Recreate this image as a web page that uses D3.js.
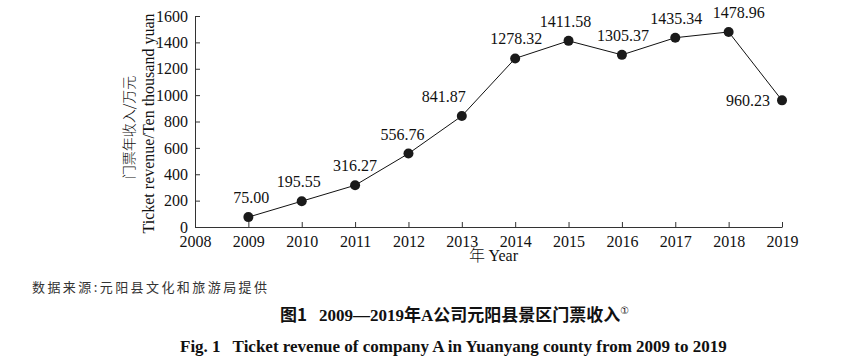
<!DOCTYPE html>
<html lang="zh">
<head>
  <meta charset="UTF-8">
  <title>Ticket revenue of company A</title>
  <script src="https://d3js.org/d3.v7.min.js"></script>
  <style>
    body { margin: 0; background: #fff; }
    svg { display: block; }
    .axis path, .axis line { stroke: #333; }
    .axis text { font-family: "Liberation Serif", serif; font-size: 16px; fill: #111; }
  </style>
</head>
<body>
<div id="chart"></div>
<script>
  // data
  const years = [2009, 2010, 2011, 2012, 2013, 2014, 2015, 2016, 2017, 2018, 2019];
  const revenue = [75.00, 195.55, 316.27, 556.76, 841.87, 1278.32, 1411.58, 1305.37, 1435.34, 1478.96, 960.23];
  const xTicks = [2008, 2009, 2010, 2011, 2012, 2013, 2014, 2015, 2016, 2017, 2018, 2019];
  const yTicks = [0, 200, 400, 600, 800, 1000, 1200, 1400, 1600];

  // label nudges (layout only)
  const labelDx = [3, -3, 0, -6, -18, 1, -3, 1, 1, 10, 0];

  const W = 862, H = 363;
  const margin = { top: 16, right: 80, bottom: 136, left: 195 };

  const svg = d3.select("#chart").append("svg")
    .attr("width", W).attr("height", H);

  const x = d3.scaleLinear().domain([2008, 2019]).range([margin.left, W - margin.right]);
  const y = d3.scaleLinear().domain([0, 1600]).range([H - margin.bottom, margin.top]);

  // axes, ticks pointing inward
  svg.append("g")
    .attr("class", "axis")
    .attr("transform", `translate(0,${y(0)})`)
    .call(d3.axisBottom(x).tickValues(xTicks).tickFormat(d3.format("d"))
      .tickSizeInner(-5).tickSizeOuter(0).tickPadding(9));

  svg.append("g")
    .attr("class", "axis")
    .attr("transform", `translate(${x(2008)},0)`)
    .call(d3.axisLeft(y).tickValues(yTicks).tickFormat(d3.format("d"))
      .tickSizeInner(-5).tickSizeOuter(0).tickPadding(7));

  // line
  const pts = years.map((yr, i) => ({ yr, v: revenue[i], i }));
  svg.append("path")
    .datum(pts)
    .attr("fill", "none")
    .attr("stroke", "#111")
    .attr("stroke-width", 1)
    .attr("d", d3.line().x(d => x(d.yr)).y(d => y(d.v)));

  svg.append("g")
    .selectAll("circle")
    .data(pts)
    .enter().append("circle")
      .attr("cx", d => x(d.yr))
      .attr("cy", d => y(d.v))
      .attr("r", 5)
      .attr("fill", "#1a1a1a");

  // value labels
  svg.append("g")
    .selectAll("text")
    .data(pts)
    .enter().append("text")
      .attr("x", d => x(d.yr) + labelDx[d.i] + (d.i === pts.length - 1 ? -12 : 0))
      .attr("y", d => d.i === pts.length - 1 ? y(d.v) + 6 : y(d.v) - 14)
      .attr("text-anchor", d => d.i === pts.length - 1 ? "end" : "middle")
      .style("font-family", "Liberation Serif, serif")
      .style("font-size", "16px")
      .attr("fill", "#111")
      .text(d => d3.format(".2f")(d.v));

  // axis titles
  svg.append("text")
    .attr("x", (x(2008) + x(2019)) / 2 + 5)
    .attr("y", 261)
    .attr("text-anchor", "middle")
    .style("font-size", "16px")
    .attr("fill", "#111")
    .call(t => {
      t.append("tspan").style("font-family", "Noto Sans CJK SC").style("font-weight", "300").text("年 ");
      t.append("tspan").style("font-family", "Liberation Serif, serif").text("Year");
    });

  const yMid = (y(0) + y(1600)) / 2;
  svg.append("text")
    .attr("transform", `translate(134,${yMid + 6}) rotate(-90)`)
    .attr("text-anchor", "middle")
    .style("font-family", "Noto Sans CJK SC")
    .style("font-weight", "300")
    .style("font-size", "14px")
    .attr("fill", "#111")
    .text("门票年收入/万元");

  svg.append("text")
    .attr("transform", `translate(154,${yMid + 2}) rotate(-90)`)
    .attr("text-anchor", "middle")
    .style("font-family", "Liberation Serif, serif")
    .style("font-size", "16px")
    .attr("fill", "#111")
    .text("Ticket revenue/Ten thousand yuan");

  // source and captions
  svg.append("text")
    .attr("x", 32).attr("y", 292)
    .style("font-family", "Noto Sans CJK SC")
    .style("font-size", "13px")
    .attr("textLength", 235)
    .attr("fill", "#333")
    .text("数据来源:元阳县文化和旅游局提供");

  const cap = svg.append("text")
    .attr("x", 280).attr("y", 321)
    .style("font-size", "17px")
    .style("font-weight", "bold")
    .attr("fill", "#111");
  cap.append("tspan").style("font-family", "Noto Sans CJK SC").text("图1");
  cap.append("tspan").attr("dx", 12).style("font-family", "Liberation Serif, serif").text("2009—2019");
  cap.append("tspan").style("font-family", "Noto Sans CJK SC").text("年");
  cap.append("tspan").style("font-family", "Liberation Serif, serif").text("A");
  cap.append("tspan").style("font-family", "Noto Sans CJK SC").text("公司元阳县景区门票收入");
  cap.append("tspan").attr("dy", -7).style("font-size", "10px").style("font-weight", "normal")
    .style("font-family", "DejaVu Sans").text("①");

  const fig = svg.append("text")
    .attr("x", 180).attr("y", 352)
    .style("font-family", "Liberation Serif, serif")
    .style("font-size", "17px")
    .style("font-weight", "bold")
    .attr("fill", "#111");
  fig.append("tspan").text("Fig. 1");
  fig.append("tspan").attr("dx", 12).text("Ticket revenue of company A in Yuanyang county from 2009 to 2019");
</script>
</body>
</html>
